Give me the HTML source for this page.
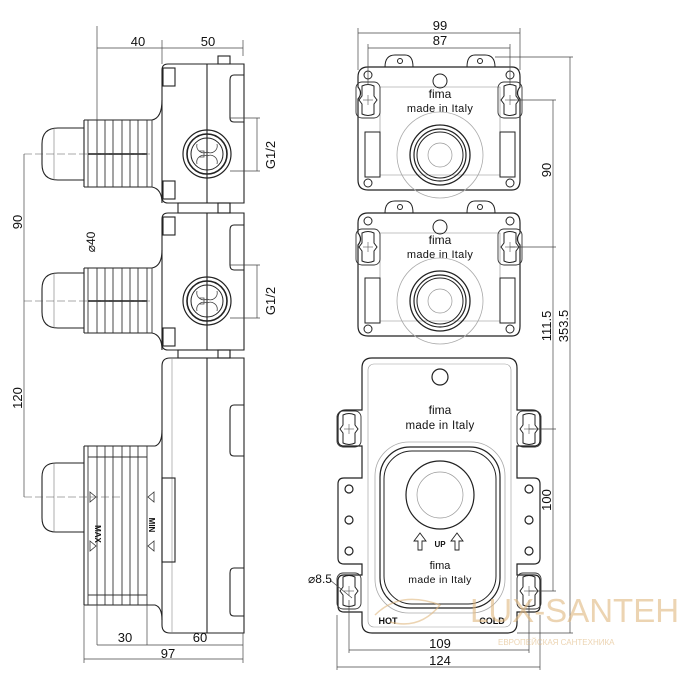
<!DOCTYPE html>
<html><head><meta charset="utf-8"><style>
html,body{margin:0;padding:0;background:#fff;}
svg{display:block;}
text{font-family:"Liberation Sans",Arial,sans-serif;fill:#111;}
</style></head><body>
<svg width="700" height="700" viewBox="0 0 700 700" xmlns="http://www.w3.org/2000/svg">
<defs>
<g id="port">
  <circle r="24" fill="none" stroke="#222" stroke-width="1.2"/>
  <circle r="20" fill="none" stroke="#222" stroke-width="1.6"/>
  <circle r="16" fill="none" stroke="#222" stroke-width="1"/>
  <path d="M-10,-10 A7,7 0 0 0 0,-2 A7,7 0 0 0 10,-10 M-10,10 A7,7 0 0 1 0,2 A7,7 0 0 1 10,10 M-8,-3 L-3,-3 L-3,3 L-8,3" fill="none" stroke="#444" stroke-width="0.8"/>
</g>
<g id="keyhole">
  <path d="M-6,-14 C-2,-16 2,-16 6,-14 L6,-4 L9,0 L6,4 L6,14 C2,16 -2,16 -6,14 L-6,4 L-9,0 L-6,-4 Z" fill="none" stroke="#222" stroke-width="1"/>
  <rect x="-12" y="-18" width="24" height="36" rx="6" fill="none" stroke="#333" stroke-width="0.9"/>
  <line x1="-5" y1="0" x2="5" y2="0" stroke="#555" stroke-width="0.6"/>
  <line x1="0" y1="-5" x2="0" y2="5" stroke="#555" stroke-width="0.6"/>
</g>
<g id="smallbox">
  <path d="M385,12 Q385,0 395,0 L405,0 Q413,0 413,12 M467,12 Q467,0 475,0 L485,0 Q495,0 495,12" fill="none" stroke="#222" stroke-width="1"/>
  <circle cx="400" cy="6" r="2.5" fill="none" stroke="#222"/>
  <circle cx="480" cy="6" r="2.5" fill="none" stroke="#222"/>
  <line x1="385" y1="12" x2="495" y2="12" stroke="#222"/>
  <path d="M368,12 L512,12 Q520,12 520,22 L520,32 Q515,38 520,44 L520,125 Q520,135 512,135 L368,135 Q358,135 358,125 L358,44 Q363,38 358,32 L358,22 Q358,12 368,12 Z" fill="none" stroke="#222" stroke-width="1.2"/>
  <path d="M380,32 L500,32 L500,120 L380,120 Z" fill="none" stroke="#888" stroke-width="0.6"/>
  <circle cx="368" cy="20" r="4" fill="none" stroke="#222"/>
  <circle cx="510" cy="20" r="4" fill="none" stroke="#222"/>
  <circle cx="368" cy="128" r="4" fill="none" stroke="#222"/>
  <circle cx="510" cy="128" r="4" fill="none" stroke="#222"/>
  <rect x="365" y="77" width="15" height="45" fill="none" stroke="#222"/>
  <rect x="500" y="77" width="15" height="45" fill="none" stroke="#222"/>
  <circle cx="440" cy="26" r="7" fill="none" stroke="#222"/>
  <text x="440" y="43" font-size="12" text-anchor="middle">fima</text>
  <text x="440" y="57" font-size="11" text-anchor="middle" letter-spacing="0.3">made  in  Italy</text>
  <circle cx="440" cy="100" r="43" fill="none" stroke="#aaa" stroke-width="0.8"/>
  <circle cx="440" cy="100" r="30" fill="none" stroke="#222" stroke-width="1.3"/>
  <circle cx="440" cy="100" r="26" fill="none" stroke="#222" stroke-width="1.2"/>
  <circle cx="440" cy="100" r="23" fill="none" stroke="#222" stroke-width="1"/>
  <circle cx="440" cy="100" r="12" fill="none" stroke="#999" stroke-width="0.7"/>
</g>
</defs>

<g stroke="#222" stroke-width="1.1" fill="none">
  <path d="M168,64 L244,64 L244,203 L168,203 Q162,203 162,197 L162,70 Q162,64 168,64 Z"/>
  <rect x="218" y="56" width="12" height="8"/>
  <line x1="207" y1="64" x2="207" y2="203"/>
  <rect x="163" y="68" width="12" height="18"/>
  <rect x="163" y="181" width="12" height="18"/>
  <path d="M244,75 L234,75 Q230,75 230,80 L230,118 Q230,122 234,122 L244,122"/>
  <rect x="178" y="203" width="52" height="10"/>
  <rect x="218" y="203" width="12" height="10"/>
  <path d="M168,213 L244,213 L244,350 L168,350 Q162,350 162,344 L162,219 Q162,213 168,213 Z"/>
  <line x1="207" y1="213" x2="207" y2="350"/>
  <rect x="163" y="217" width="12" height="18"/>
  <rect x="163" y="328" width="12" height="18"/>
  <path d="M244,225 L234,225 Q230,225 230,230 L230,265 Q230,270 234,270 L244,270"/>
  <rect x="178" y="350" width="52" height="8"/>
  <rect x="218" y="350" width="12" height="8"/>
  <path d="M170,358 L244,358 L244,633 L170,633 Q162,633 162,625 L162,366 Q162,358 170,358 Z"/>
  <line x1="207" y1="358" x2="207" y2="633"/>
  <line x1="172" y1="358" x2="172" y2="633" stroke="#888" stroke-width="0.6"/>
  <rect x="162" y="478" width="13" height="84"/>
  <path d="M244,405 L234,405 Q230,405 230,410 L230,452 Q230,456 234,456 L244,456"/>
  <path d="M244,568 L234,568 Q230,568 230,573 L230,612 Q230,616 234,616 L244,616"/>

  <path d="M84,128 L58,128 Q42,128 42,144 L42,164 Q42,180 58,180 L84,180"/>
  <line x1="54" y1="128" x2="54" y2="180" stroke="#777" stroke-width="0.6"/>
  <path d="M84,120 L152,120 Q162,118 162,100 M84,187 L152,187 Q162,189 162,203"/>
  <line x1="84" y1="120" x2="84" y2="187"/>
  <path d="M84,273 L58,273 Q42,273 42,289 L42,312 Q42,328 58,328 L84,328"/>
  <line x1="54" y1="273" x2="54" y2="328" stroke="#777" stroke-width="0.6"/>
  <path d="M84,268 L152,268 Q162,266 162,250 M84,333 L152,333 Q162,335 162,350"/>
  <line x1="84" y1="268" x2="84" y2="333"/>
  <path d="M84,463 L56,463 Q42,463 42,477 L42,518 Q42,532 56,532 L84,532"/>
  <line x1="54" y1="463" x2="54" y2="532" stroke="#777" stroke-width="0.6"/>
  <path d="M84,446 L155,446 Q162,444 162,430 M84,605 L155,605 Q162,607 162,620"/>
  <line x1="84" y1="446" x2="84" y2="605"/>
</g>
<g stroke="#333" stroke-width="0.9">
  <line x1="88" y1="120" x2="88" y2="187"/><line x1="97" y1="120" x2="97" y2="187"/>
  <line x1="105" y1="120" x2="105" y2="187"/><line x1="113" y1="120" x2="113" y2="187"/>
  <line x1="122" y1="120" x2="122" y2="187"/><line x1="130" y1="120" x2="130" y2="187"/>
  <line x1="138" y1="120" x2="138" y2="187"/><line x1="147" y1="120" x2="147" y2="187"/>
  <line x1="152" y1="120" x2="152" y2="187"/>
  <line x1="88" y1="268" x2="88" y2="333"/><line x1="97" y1="268" x2="97" y2="333"/>
  <line x1="105" y1="268" x2="105" y2="333"/><line x1="113" y1="268" x2="113" y2="333"/>
  <line x1="122" y1="268" x2="122" y2="333"/><line x1="130" y1="268" x2="130" y2="333"/>
  <line x1="138" y1="268" x2="138" y2="333"/><line x1="147" y1="268" x2="147" y2="333"/>
  <line x1="152" y1="268" x2="152" y2="333"/>
  <line x1="88" y1="446" x2="88" y2="605"/><line x1="97" y1="446" x2="97" y2="605"/>
  <line x1="105" y1="446" x2="105" y2="605"/><line x1="113" y1="446" x2="113" y2="605"/>
  <line x1="122" y1="446" x2="122" y2="605"/><line x1="130" y1="446" x2="130" y2="605"/>
  <line x1="138" y1="446" x2="138" y2="605"/><line x1="147" y1="446" x2="147" y2="605"/>
  <line x1="88" y1="457" x2="147" y2="457"/><line x1="88" y1="595" x2="147" y2="595"/>
  <line x1="88" y1="154" x2="147" y2="154" stroke-width="1.8"/>
  <line x1="88" y1="301" x2="147" y2="301" stroke-width="1.8"/>
</g>
<g fill="none" stroke="#333" stroke-width="0.8">
  <path d="M90,492 L96,497 L90,502 Z"/><path d="M90,541 L96,546 L90,551 Z"/>
  <path d="M154,492 L148,497 L154,502 Z"/><path d="M154,541 L148,546 L154,551 Z"/>
</g>
<text x="0" y="0" font-size="8" font-weight="bold" transform="translate(95,534) rotate(90)" text-anchor="middle">MAX</text>
<text x="0" y="0" font-size="8" font-weight="bold" transform="translate(149,525) rotate(90)" text-anchor="middle">MIN</text>
<use href="#port" x="207" y="154"/>
<use href="#port" x="207" y="301"/>
<g stroke="#555" stroke-width="0.6" stroke-dasharray="8,3">
  <line x1="24" y1="154" x2="150" y2="154"/>
  <line x1="24" y1="301" x2="150" y2="301"/>
  <line x1="24" y1="497" x2="120" y2="497"/>
</g>
<g stroke="#444" stroke-width="0.7" fill="none">
  <line x1="97" y1="48" x2="243" y2="48"/>
  <line x1="97" y1="26" x2="97" y2="120"/>
  <line x1="162" y1="40" x2="162" y2="64"/>
  <line x1="243" y1="40" x2="243" y2="56"/>
  <line x1="24" y1="154" x2="24" y2="497"/>
  <line x1="257" y1="118" x2="257" y2="171"/><line x1="230" y1="118" x2="260" y2="118"/><line x1="230" y1="171" x2="260" y2="171"/>
  <line x1="257" y1="265" x2="257" y2="318"/><line x1="230" y1="265" x2="260" y2="265"/><line x1="230" y1="318" x2="260" y2="318"/>
  <line x1="97" y1="560" x2="97" y2="645"/>
  <line x1="147" y1="605" x2="147" y2="645"/>
  <line x1="84" y1="605" x2="84" y2="663"/>
  <line x1="243" y1="633" x2="243" y2="663"/>
  <line x1="97" y1="645" x2="243" y2="645"/>
  <line x1="84" y1="659" x2="243" y2="659"/>
</g>
<text x="138" y="46" font-size="13" text-anchor="middle">40</text>
<text x="208" y="46" font-size="13" text-anchor="middle">50</text>
<text transform="translate(22,222) rotate(-90)" font-size="13" text-anchor="middle">90</text>
<text transform="translate(22,398) rotate(-90)" font-size="13" text-anchor="middle">120</text>
<text transform="translate(95,242) rotate(-90)" font-size="12" text-anchor="middle">⌀40</text>
<text transform="translate(275,155) rotate(-90)" font-size="13" text-anchor="middle">G1/2</text>
<text transform="translate(275,301) rotate(-90)" font-size="13" text-anchor="middle">G1/2</text>
<text x="125" y="642" font-size="13" text-anchor="middle">30</text>
<text x="200" y="642" font-size="13" text-anchor="middle">60</text>
<text x="168" y="658" font-size="13" text-anchor="middle">97</text>

<use href="#smallbox" y="55"/>
<use href="#keyhole" x="368" y="100"/>
<use href="#keyhole" x="510" y="100"/>
<use href="#smallbox" y="201"/>
<use href="#keyhole" x="368" y="247"/>
<use href="#keyhole" x="510" y="247"/>

<g fill="none" stroke="#222" stroke-width="1.2">
  <path d="M372,358 L507,358 Q517,358 517,368 L517,410 L532,410 Q540,410 540,418 L540,440 Q540,446 534,446 L517,446 L517,478 L534,478 Q540,478 540,484 L540,558 Q540,564 534,564 L517,564 L517,575 L534,575 Q540,575 540,581 L540,606 Q540,612 534,612 L517,612 L517,623 Q517,633 507,633 L372,633 Q362,633 362,623 L362,612 L344,612 Q338,612 338,606 L338,581 Q338,575 344,575 L362,575 L362,564 L344,564 Q338,564 338,558 L338,484 Q338,478 344,478 L362,478 L362,446 L344,446 Q338,446 338,440 L338,418 Q338,410 346,410 L362,410 L362,368 Q362,358 372,358 Z"/>
  <rect x="368" y="364" width="143" height="263" rx="6" stroke="#999" stroke-width="0.6"/>
  <circle cx="440" cy="377" r="8"/>
  <rect x="375" y="442" width="130" height="171" rx="34" stroke="#aaa" stroke-width="0.8"/>
  <rect x="380" y="447" width="120" height="161" rx="30" stroke-width="1.2"/>
  <rect x="384" y="451" width="112" height="153" rx="28" stroke-width="1"/>
  <circle cx="440" cy="495" r="34"/>
  <circle cx="440" cy="495" r="23" stroke="#999" stroke-width="0.7"/>
  <circle cx="349" cy="489" r="4"/><circle cx="349" cy="520" r="4"/><circle cx="349" cy="551" r="4"/>
  <circle cx="529" cy="489" r="4"/><circle cx="529" cy="520" r="4"/><circle cx="529" cy="551" r="4"/>
  <path d="M418,550 L418,541 L414,541 L420,533 L426,541 L422,541 L422,550 Z" stroke-width="0.9"/>
  <path d="M455,550 L455,541 L451,541 L457,533 L463,541 L459,541 L459,550 Z" stroke-width="0.9"/>
</g>
<use href="#keyhole" x="349" y="429"/>
<use href="#keyhole" x="529" y="429"/>
<use href="#keyhole" x="349" y="591"/>
<use href="#keyhole" x="529" y="591"/>
<text x="440" y="414" font-size="12" text-anchor="middle">fima</text>
<text x="440" y="429" font-size="11.5" text-anchor="middle" letter-spacing="0.3">made  in  Italy</text>
<text x="440" y="547" font-size="8" font-weight="bold" text-anchor="middle">UP</text>
<text x="440" y="569" font-size="11" text-anchor="middle">fima</text>
<text x="440" y="583" font-size="10.5" text-anchor="middle" letter-spacing="0.3">made  in  Italy</text>
<text x="388" y="624" font-size="9" font-weight="bold" text-anchor="middle">HOT</text>
<text x="492" y="624" font-size="9" font-weight="bold" text-anchor="middle">COLD</text>

<g stroke="#444" stroke-width="0.7" fill="none">
  <line x1="358" y1="33" x2="520" y2="33"/>
  <line x1="368" y1="48" x2="510" y2="48"/>
  <line x1="358" y1="28" x2="358" y2="70"/><line x1="520" y1="28" x2="520" y2="70"/>
  <line x1="368" y1="44" x2="368" y2="85"/><line x1="510" y1="44" x2="510" y2="85"/>
  <line x1="510" y1="100" x2="556" y2="100"/>
  <line x1="510" y1="247" x2="556" y2="247"/>
  <line x1="553" y1="100" x2="553" y2="429"/>
  <line x1="495" y1="57" x2="573" y2="57"/>
  <line x1="570" y1="57" x2="570" y2="633"/>
  <line x1="517" y1="633" x2="573" y2="633"/>
  <line x1="529" y1="429" x2="556" y2="429"/>
  <line x1="529" y1="591" x2="556" y2="591"/>
  <line x1="553" y1="429" x2="553" y2="591"/>
  <line x1="349" y1="600" x2="349" y2="653"/><line x1="529" y1="600" x2="529" y2="653"/>
  <line x1="337" y1="615" x2="337" y2="670"/><line x1="540" y1="615" x2="540" y2="670"/>
  <line x1="349" y1="650" x2="529" y2="650"/>
  <line x1="337" y1="667" x2="540" y2="667"/>
  <line x1="330" y1="580" x2="352" y2="598"/>
</g>
<text x="440" y="30" font-size="13" text-anchor="middle">99</text>
<text x="440" y="45" font-size="13" text-anchor="middle">87</text>
<text transform="translate(551,170) rotate(-90)" font-size="13" text-anchor="middle">90</text>
<text transform="translate(551,326) rotate(-90)" font-size="13" text-anchor="middle">111.5</text>
<text transform="translate(568,326) rotate(-90)" font-size="13" text-anchor="middle">353.5</text>
<text transform="translate(551,500) rotate(-90)" font-size="13" text-anchor="middle">100</text>
<text x="320" y="583" font-size="12" text-anchor="middle">⌀8.5</text>
<text x="440" y="648" font-size="13" text-anchor="middle">109</text>
<text x="440" y="665" font-size="13" text-anchor="middle">124</text>

<g opacity="0.6">
  <text x="470" y="622" font-family="Liberation Serif,serif" font-size="33" style="fill:#e0b880">LUX-SANTEH</text>
  <text x="498" y="645" font-family="Liberation Serif,serif" font-size="8" style="fill:#e0b880">ЕВРОПЕЙСКАЯ САНТЕХНИКА</text>
  <path d="M375,615 Q400,590 440,605 Q420,630 390,622" fill="none" stroke="#e0b880" stroke-width="1.5"/>
</g>
</svg>
</body></html>
